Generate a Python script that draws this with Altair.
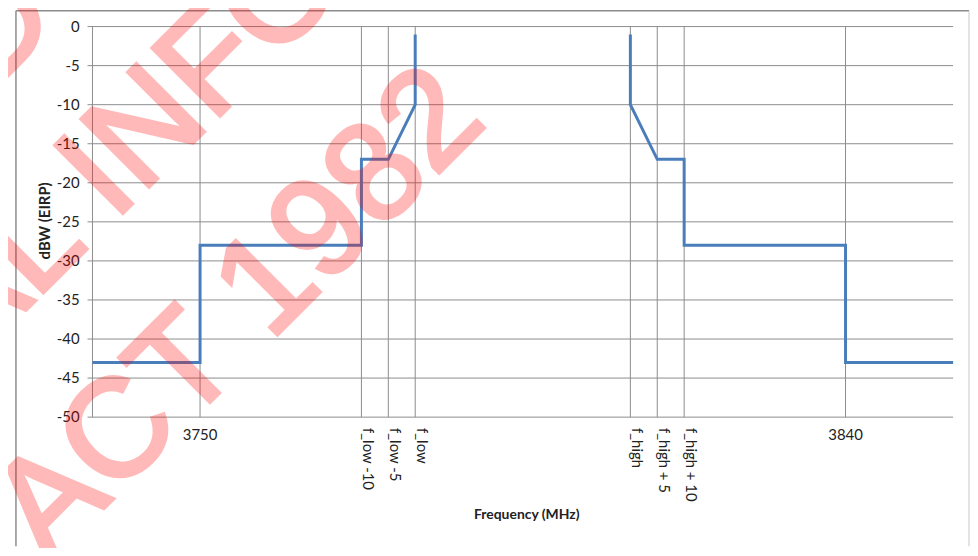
import altair as alt
import pandas as pd

# ---- data ----
line_x = [3735, 3750, 3750, 3772.5, 3772.5, 3776.25, 3780, 3780,
          3810, 3810, 3813.75, 3817.5, 3817.5, 3840, 3840, 3855]
line_y = [-43, -43, -28, -28, -17, -17, -10, -1,
          -1, -10, -17, -17, -28, -28, -43, -43]
line_seg = ["low"] * 8 + ["high"] * 8

y_ticks = [0, -5, -10, -15, -20, -25, -30, -35, -40, -45, -50]
y_labels = ["0", "-5", "-10", "-15", "-20", "-25", "-30", "-35", "-40", "-45", "-50"]
x_tick_values = [3750, 3772.5, 3776.25, 3780, 3810, 3813.75, 3817.5, 3840]
horiz_values = [3750, 3840]
horiz_labels = ["3750", "3840"]
rot_values = [3772.5, 3776.25, 3780, 3810, 3813.75, 3817.5]
rot_labels = ["f_low -10", "f_low -5", "f_low", "f_high", "f_high + 5", "f_high + 10"]
x_title = "Frequency (MHz)"
y_title = "dBW (EIRP)"
watermark_lines = ["RELEASED UNDER THE", "OFFICIAL INFORMATION", "ACT 1982"]

GRID = "#8c8c8c"
TXT = "#222222"
W, H = 866, 393

df = pd.DataFrame({"freq": line_x, "dbw": line_y, "seg": line_seg,
                   "i": list(range(len(line_x)))})
xscale = alt.Scale(domain=[3735, 3855], nice=False, zero=False)
yscale = alt.Scale(domain=[-50, 0], nice=False)

# horizontal gridlines (with the short outward tick on the left)
hgrid = alt.Chart(pd.DataFrame({"g": y_ticks})).mark_rule(
    color=GRID, strokeWidth=1
).encode(y=alt.Y("g:Q", scale=yscale, axis=None),
         x=alt.value(-5), x2=alt.value(W))

# vertical gridlines
vgrid = alt.Chart(pd.DataFrame({"v": x_tick_values})).mark_rule(
    color=GRID, strokeWidth=1
).encode(x=alt.X("v:Q", scale=xscale, axis=None),
         y=alt.value(0), y2=alt.value(H))

# y axis line
yline = alt.Chart(pd.DataFrame({"v": [3735]})).mark_rule(
    color=GRID, strokeWidth=1
).encode(x=alt.X("v:Q", scale=xscale, axis=None),
         y=alt.value(0), y2=alt.value(H))

line = alt.Chart(df).mark_line(color="#4a7ebb", strokeWidth=3, strokeJoin="miter").encode(
    x=alt.X("freq:Q", scale=xscale, axis=None),
    y=alt.Y("dbw:Q", scale=yscale, axis=None),
    detail="seg:N",
    order="i:Q",
)

# y tick labels
yl = alt.Chart(pd.DataFrame({"g": y_ticks, "t": y_labels})).mark_text(
    font="Lato", fontSize=15, color=TXT, baseline="middle", align="right"
).encode(y=alt.Y("g:Q", scale=yscale, axis=None), x=alt.value(-13), text="t:N")

# x tick labels
hl = alt.Chart(pd.DataFrame({"v": horiz_values, "t": horiz_labels})).mark_text(
    font="Lato", fontSize=15, color=TXT, baseline="middle", align="center"
).encode(x=alt.X("v:Q", scale=xscale, axis=None), y=alt.value(411), text="t:N")

rl = alt.Chart(pd.DataFrame({"v": rot_values, "t": rot_labels})).mark_text(
    font="Lato", fontSize=15, color=TXT, angle=90, align="left",
    baseline="bottom", dy=1
).encode(x=alt.X("v:Q", scale=xscale, axis=None), y=alt.value(404), text="t:N")

one = pd.DataFrame({"k": [0]})

# axis titles
xt = alt.Chart(one).mark_text(
    text=x_title, font="Lato", fontSize=14, fontWeight="bold", color=TXT,
    align="center", baseline="middle"
).encode(x=alt.value(437), y=alt.value(491))

yt = alt.Chart(one).mark_text(
    text=y_title, font="Lato", fontSize=15, fontWeight="bold", color=TXT,
    align="center", baseline="bottom", angle=270
).encode(x=alt.value(-40), y=alt.value(195.5))

# chart-area frame
border_left = alt.Chart(one).mark_rule(color=GRID, strokeWidth=1.5).encode(
    x=alt.value(-77), y=alt.value(-16), y2=alt.value(523))
border_top = alt.Chart(one).mark_rule(color=GRID, strokeWidth=1.5).encode(
    x=alt.value(-77), x2=alt.value(882), y=alt.value(-16))
border_right = alt.Chart(one).mark_rule(color="#c8c8c8", strokeWidth=1).encode(
    x=alt.value(882), y=alt.value(-16), y2=alt.value(523))


def wm(text, px, py):
    return alt.Chart(one).mark_text(
        text=text, font="Liberation Sans", fontSize=140, angle=315,
        align="left", baseline="alphabetic", color="#ff0000",
        stroke="#ff0000", strokeWidth=4, opacity=0.27
    ).encode(x=alt.value(px), y=alt.value(py))


wm0 = wm(watermark_lines[0], -559, 523)
wm1 = wm(watermark_lines[1], -448, 666)
wm2 = wm(watermark_lines[2], -45, 541)

chart = alt.layer(
    border_left, border_top, border_right, hgrid, vgrid, yline,
    line, yl, hl, rl, xt, yt, wm0, wm1, wm2
).properties(
    width=W, height=H,
    autosize=alt.AutoSizeParams(type="none"),
    padding={"left": 85, "top": 17, "right": 17, "bottom": 130},
).configure_view(strokeWidth=0)

chart.save("out.html", embed_options={"renderer": "svg", "actions": False})
